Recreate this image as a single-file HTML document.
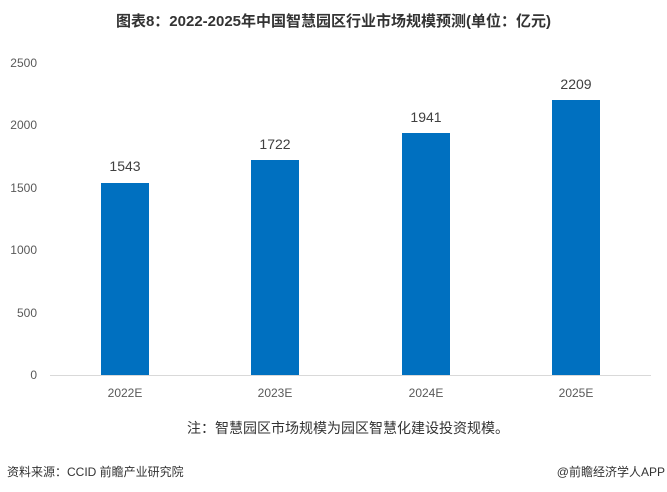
<!DOCTYPE html>
<html><head><meta charset="utf-8"><style>
body{margin:0;width:667px;height:492px;background:#fff;position:relative;font-family:"Liberation Sans","Noto Sans CJK SC",sans-serif;overflow:hidden}
.t{position:absolute;white-space:nowrap}
.yl{position:absolute;right:630px;font-size:12px;color:#595959;text-align:right}
.bar{position:absolute;background:#0070C0;width:48px}
.v{position:absolute;font-size:14px;color:#404040;width:60px;text-align:center}
.x{position:absolute;font-size:12px;color:#595959;width:80px;text-align:center;top:386px}
</style></head><body>
<div class="t" style="left:0;width:667px;text-align:center;top:10px;font-size:15px;font-weight:bold;color:#333">图表8：2022-2025年中国智慧园区行业市场规模预测(单位：亿元)</div>
<div class="yl" style="top:56px;right:630px">2500</div>
<div class="yl" style="top:118px">2000</div>
<div class="yl" style="top:181px">1500</div>
<div class="yl" style="top:243px">1000</div>
<div class="yl" style="top:306px">500</div>
<div class="yl" style="top:368px">0</div>
<div style="position:absolute;left:50px;top:375px;width:601px;height:1px;background:#d9d9d9"></div>
<div class="bar" style="left:101px;top:183px;height:192px"></div>
<div class="bar" style="left:251px;top:160px;height:215px"></div>
<div class="bar" style="left:402px;top:133px;height:242px"></div>
<div class="bar" style="left:552px;top:100px;height:275px"></div>
<div class="v" style="left:95px;top:158px">1543</div>
<div class="v" style="left:245px;top:136px">1722</div>
<div class="v" style="left:396px;top:109px">1941</div>
<div class="v" style="left:546px;top:76px">2209</div>
<div class="x" style="left:85px">2022E</div>
<div class="x" style="left:235px">2023E</div>
<div class="x" style="left:386px">2024E</div>
<div class="x" style="left:536px">2025E</div>
<div class="t" style="left:187px;top:418px;font-size:14px;color:#333">注：智慧园区市场规模为园区智慧化建设投资规模。</div>
<div class="t" style="left:7px;top:463px;font-size:12px;color:#333">资料来源：CCID 前瞻产业研究院</div>
<div class="t" style="right:2px;top:463px;font-size:12px;color:#333">@前瞻经济学人APP</div>
</body></html>
